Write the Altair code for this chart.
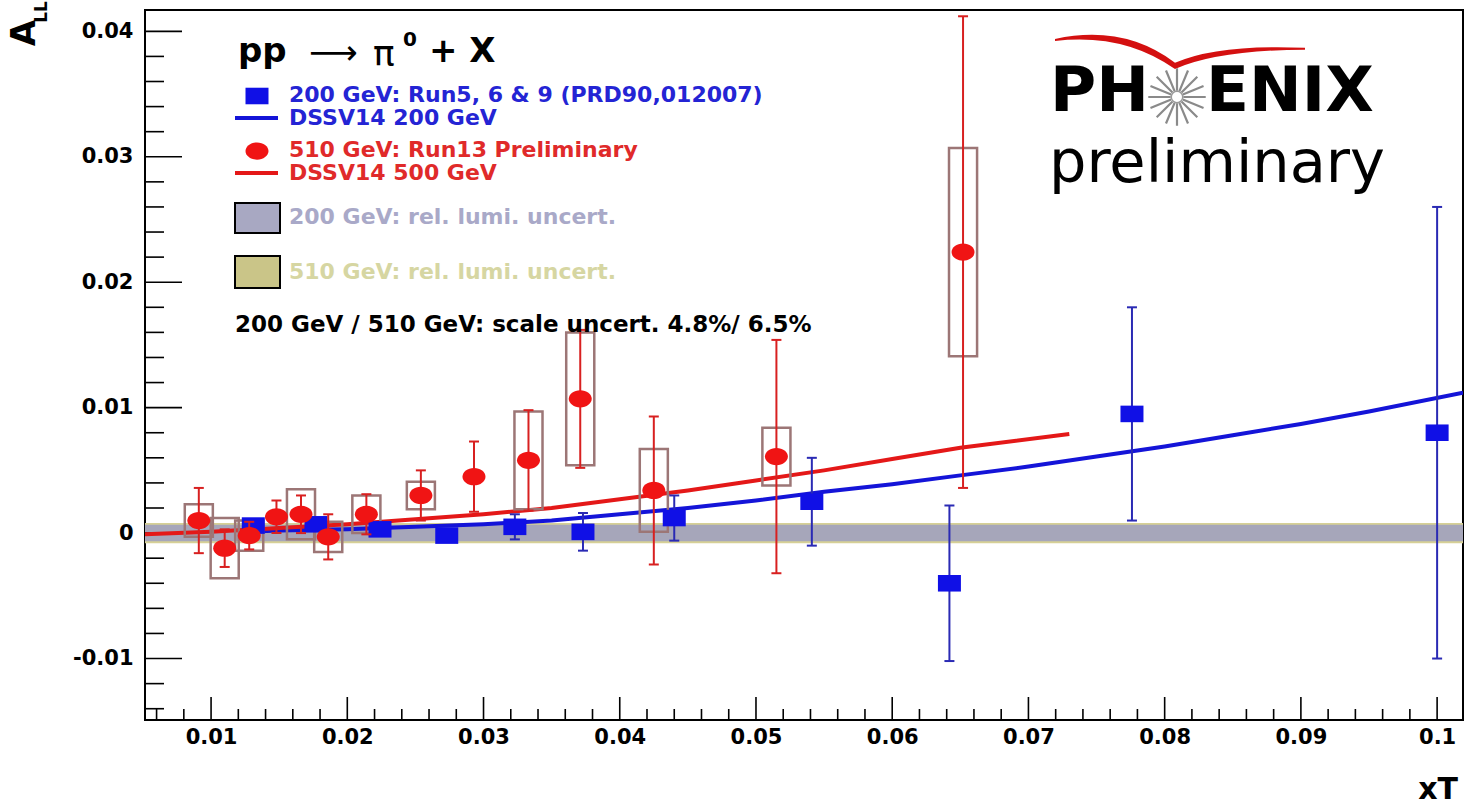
import math
import altair as alt
import pandas as pd

FONT = "DejaVu Sans"

# ---------------- data ----------------
# 510 GeV: Run13 preliminary (red)
red_x = [0.0091, 0.0110, 0.0128, 0.0148, 0.0166, 0.0186, 0.0214, 0.0254, 0.0293, 0.0333, 0.0371, 0.0425, 0.0515, 0.0652]
red_y = [0.0010, -0.0012, -0.0002, 0.0013, 0.0015, -0.0003, 0.0015, 0.0030, 0.0045, 0.0058, 0.0107, 0.0034, 0.0061, 0.0224]
red_stat = [0.0026, 0.0015, 0.0011, 0.0013, 0.0015, 0.0018, 0.0016, 0.0020, 0.0028, 0.0040, 0.0055, 0.0059, 0.0093, 0.0188]
red_sys = [0.0013, 0.0024, 0.0012, 0.0, 0.0020, 0.0012, 0.0015, 0.0011, 0.0, 0.0039, 0.0053, 0.0033, 0.0023, 0.0083]

# 200 GeV: Run5, 6 & 9 (blue)
blue_x = [0.0131, 0.0177, 0.0224, 0.0273, 0.0323, 0.0373, 0.0440, 0.0541, 0.0642, 0.0776, 0.1000]
blue_y = [0.0006, 0.0007, 0.0003, -0.0002, 0.0005, 0.0001, 0.0012, 0.0025, -0.0040, 0.0095, 0.0080]
blue_stat = [0.0005, 0.0005, 0.0004, 0.0005, 0.0010, 0.0015, 0.0018, 0.0035, 0.0062, 0.0085, 0.0180]

# DSSV14 curves
dssv500_x = [0.005, 0.010, 0.015, 0.020, 0.025, 0.030, 0.035, 0.040, 0.045, 0.050, 0.055, 0.060, 0.065, 0.073]
dssv500_y = [-0.0001, 0.0001, 0.0004, 0.0007, 0.0011, 0.0015, 0.0020, 0.0027, 0.0034, 0.0042, 0.0050, 0.0059, 0.0068, 0.0079]
dssv200_x = [0.0125, 0.015, 0.020, 0.025, 0.030, 0.035, 0.040, 0.045, 0.050, 0.055, 0.060,
             0.065, 0.070, 0.075, 0.080, 0.085, 0.090, 0.095, 0.1019]
dssv200_y = [0.0001, 0.0002, 0.0003, 0.0005, 0.0007, 0.0010, 0.0015, 0.0020, 0.0026, 0.0033, 0.0039,
             0.0046, 0.0053, 0.0061, 0.0069, 0.0078, 0.0087, 0.0097, 0.0112]

# relative luminosity uncertainty bands (half widths)
lumi_names = ["510 GeV", "200 GeV"]
lumi_half = [0.0008, 0.00066]
lumi_colors = ["#d6d096", "#a6a6ba"]

# axes
x_domain = [0.00515, 0.1019]
y_domain = [-0.0149, 0.0417]
x_major = [0.01, 0.02, 0.03, 0.04, 0.05, 0.06, 0.07, 0.08, 0.09, 0.1]
y_major = [-0.01, 0.0, 0.01, 0.02, 0.03, 0.04]
x_minor = [round(0.006 + 0.002 * i, 3) for i in range(48) if round((0.006 + 0.002 * i) * 1000) % 10 != 0]
y_minor = [round(-0.014 + 0.002 * i, 3) for i in range(28) if round(abs(-0.014 + 0.002 * i) * 1000) % 10 != 0]

# ---------------- styling ----------------
W, H = 1318, 710
BOX_HALF = 0.00103
RED = "#f01414"
RED_ERR = "#d82020"
BLUE = "#1010e6"
BLUE_ERR = "#2a2ab4"
BOX_COL = "#9c7676"
ELLIPSE = ("M -1 0 C -1 -0.414 -0.552 -0.75 0 -0.75 C 0.552 -0.75 1 -0.414 1 0 "
           "C 1 0.414 0.552 0.75 0 0.75 C -0.552 0.75 -1 0.414 -1 0 Z")
RECT = "M -1 -0.72 L 1 -0.72 L 1 0.72 L -1 0.72 Z"
SWOOSH = ("M -1 -0.12 Q -0.45 -0.24 -0.04 0.07 Q 0.3 -0.08 1 -0.05 L 1 -0.035 "
          "Q 0.3 -0.03 -0.04 0.12 Q -0.45 -0.17 -1 -0.105 Z")
# starburst of the logo: 16 spokes around a small open circle
_sp = []
for k in range(16):
    a = k * math.pi / 8
    _sp.append("M %.3f %.3f L %.3f %.3f" % (0.22 * math.cos(a), 0.22 * math.sin(a), math.cos(a), math.sin(a)))
STAR = " ".join(_sp)
HUB = ("M -0.2 0 C -0.2 -0.11 -0.11 -0.2 0 -0.2 C 0.11 -0.2 0.2 -0.11 0.2 0 "
       "C 0.2 0.11 0.11 0.2 0 0.2 C -0.11 0.2 -0.2 0.11 -0.2 0 Z")

xs = alt.Scale(domain=x_domain, nice=False, zero=False)
ys = alt.Scale(domain=y_domain, nice=False, zero=False)

xaxis = alt.Axis(values=x_major, labelExpr="format(datum.value, '~g')", ticks=False, domain=False,
                 grid=False, labelFont=FONT, labelFontSize=21, labelFontWeight="bold",
                 labelColor="black", labelPadding=6, labelFlush=False, labelOverlap=False, title=None)
yaxis = alt.Axis(values=y_major,
                 labelExpr="datum.value < 0 ? '-' + format(-datum.value, '~g') : format(datum.value, '~g')",
                 ticks=False, domain=False, grid=False, labelFont=FONT, labelFontSize=21,
                 labelFontWeight="bold", labelColor="black", labelPadding=12, labelFlush=False,
                 labelOverlap=False, title=None)


def X(f):
    return alt.X(f, type="quantitative", scale=xs, axis=xaxis)


def Y(f):
    return alt.Y(f, type="quantitative", scale=ys, axis=yaxis)


red = pd.DataFrame({"x": red_x, "y": red_y, "stat": red_stat, "sys": red_sys})
blue = pd.DataFrame({"x": blue_x, "y": blue_y, "stat": blue_stat})
lumi = pd.DataFrame({"name": lumi_names, "half": lumi_half, "col": lumi_colors})
c500 = pd.DataFrame({"x": dssv500_x, "y": dssv500_y})
c200 = pd.DataFrame({"x": dssv200_x, "y": dssv200_y})
one = pd.DataFrame({"a": [0]})

layers = []

# bands
layers.append(
    alt.Chart(lumi).transform_calculate(lo="-datum.half", hi="datum.half")
    .mark_rect().encode(x=alt.value(0), x2=alt.value(W), y=Y("lo"), y2=alt.Y2("hi"),
                        color=alt.Color("col:N", scale=None))
)

# inside ticks
layers.append(alt.Chart(pd.DataFrame({"v": x_major})).mark_rule(color="black", strokeWidth=1.6)
              .encode(x=X("v"), y=alt.value(H), y2=alt.value(H - 23)))
layers.append(alt.Chart(pd.DataFrame({"v": x_minor})).mark_rule(color="black", strokeWidth=1.6)
              .encode(x=X("v"), y=alt.value(H), y2=alt.value(H - 11)))
layers.append(alt.Chart(pd.DataFrame({"v": y_major})).mark_rule(color="black", strokeWidth=1.6)
              .encode(y=Y("v"), x=alt.value(0), x2=alt.value(37)))
layers.append(alt.Chart(pd.DataFrame({"v": y_minor})).mark_rule(color="black", strokeWidth=1.6)
              .encode(y=Y("v"), x=alt.value(0), x2=alt.value(19)))

# curves
layers.append(alt.Chart(c200).mark_line(color="#1414d8", strokeWidth=4, clip=True)
              .encode(x=X("x"), y=Y("y"), order="x:Q"))
layers.append(alt.Chart(c500).mark_line(color="#e41818", strokeWidth=4, clip=True)
              .encode(x=X("x"), y=Y("y"), order="x:Q"))

# systematic boxes (510 GeV)
layers.append(
    alt.Chart(red).transform_filter("datum.sys > 0")
    .transform_calculate(lo="datum.y - datum.sys", hi="datum.y + datum.sys",
                         xl=f"datum.x - {BOX_HALF}", xr=f"datum.x + {BOX_HALF}")
    .mark_rect(fillOpacity=0, stroke=BOX_COL, strokeWidth=2.5)
    .encode(x=X("xl"), x2=alt.X2("xr"), y=Y("lo"), y2=alt.Y2("hi"))
)


def errbars(df, col):
    base = alt.Chart(df).transform_calculate(lo="datum.y - datum.stat", hi="datum.y + datum.stat")
    rule = base.mark_rule(color=col, strokeWidth=2).encode(x=X("x"), y=Y("lo"), y2=alt.Y2("hi"))
    caps = base.transform_fold(["lo", "hi"], as_=["k", "v"]).mark_tick(
        color=col, orient="horizontal", size=10, thickness=2, opacity=1).encode(x=X("x"), y=Y("v:Q"))
    return [rule, caps]


layers += errbars(blue, BLUE_ERR)
layers.append(alt.Chart(blue).mark_point(shape=RECT, size=529, filled=True, color=BLUE, opacity=1,
                                         strokeWidth=0).encode(x=X("x"), y=Y("y")))
layers += errbars(red, RED_ERR)
layers.append(alt.Chart(red).mark_point(shape=ELLIPSE, size=529, filled=True, color=RED, opacity=1,
                                        strokeWidth=0).encode(x=X("x"), y=Y("y")))


# ---------------- texts, legend, logo ----------------
def txt(s, x, y, size, color="black", weight="bold", align="left", baseline="middle", angle=0, font=FONT):
    kw = dict(text=s, fontSize=size, color=color, fontWeight=weight, align=align,
              baseline=baseline, font=font)
    if angle:
        kw["angle"] = angle
    return alt.Chart(one).mark_text(**kw).encode(x=alt.value(x), y=alt.value(y))


# legend title  pp -> pi0 + X
layers.append(txt("pp", 93, 42, 34))
layers.append(txt("⟶", 164, 44, 34, weight="normal"))
layers.append(txt("π", 228, 45, 36, weight="normal"))
layers.append(txt("0", 258, 30, 20))
layers.append(txt("+ X", 284, 42, 34))

# legend entries
layers.append(alt.Chart(one).mark_point(shape=RECT, size=529, filled=True, color=BLUE, opacity=1,
                                        strokeWidth=0).encode(x=alt.value(112), y=alt.value(86)))
layers.append(txt("200 GeV: Run5, 6 & 9 (PRD90,012007)", 144, 85, 22, color="#2424d4"))
layers.append(alt.Chart(one).mark_rule(color="#1414d8", strokeWidth=4)
              .encode(x=alt.value(90), x2=alt.value(133), y=alt.value(108)))
layers.append(txt("DSSV14 200 GeV", 144, 108, 22, color="#2424d4"))
layers.append(alt.Chart(one).mark_point(shape=ELLIPSE, size=529, filled=True, color=RED, opacity=1,
                                        strokeWidth=0).encode(x=alt.value(112), y=alt.value(141)))
layers.append(txt("510 GeV: Run13 Preliminary", 144, 140, 22, color="#e02a2a"))
layers.append(alt.Chart(one).mark_rule(color="#e41818", strokeWidth=4)
              .encode(x=alt.value(90), x2=alt.value(133), y=alt.value(163)))
layers.append(txt("DSSV14 500 GeV", 144, 163, 22, color="#e02a2a"))
layers.append(alt.Chart(one).mark_rect(fill="#a8a8c2", stroke="black", strokeWidth=2)
              .encode(x=alt.value(90), x2=alt.value(135), y=alt.value(193), y2=alt.value(223)))
layers.append(txt("200 GeV: rel. lumi. uncert.", 144, 207, 22, color="#a9a9c8"))
layers.append(alt.Chart(one).mark_rect(fill="#cac588", stroke="black", strokeWidth=2)
              .encode(x=alt.value(90), x2=alt.value(135), y=alt.value(246), y2=alt.value(278)))
layers.append(txt("510 GeV: rel. lumi. uncert.", 144, 262, 22, color="#d6d6a2"))
layers.append(txt("200 GeV / 510 GeV: scale uncert. 4.8%/ 6.5%", 90, 315, 23))

# axis titles
layers.append(txt("A", -120, 23, 34, angle=270, align="center"))
layers.append(txt("LL", -103, 2, 17, angle=270, align="center"))
layers.append(txt("xT", 1313, 780, 30, align="right"))

# PHENIX logo
layers.append(alt.Chart(one).mark_point(shape=SWOOSH, size=62500, filled=True, color="#d41010",
                                        opacity=1, strokeWidth=0)
              .encode(x=alt.value(1035), y=alt.value(44)))
layers.append(txt("PH", 1004, 101, 63, align="right", baseline="alphabetic"))
layers.append(alt.Chart(one).mark_point(shape=STAR, size=3300, filled=False, color="#8a8a8a",
                                        opacity=1, strokeWidth=2.2)
              .encode(x=alt.value(1032), y=alt.value(87)))
layers.append(alt.Chart(one).mark_point(shape=HUB, size=3300, filled=False, color="#9a9a9a",
                                        opacity=1, strokeWidth=1.5)
              .encode(x=alt.value(1032), y=alt.value(87)))
layers.append(txt("ENIX", 1061, 101, 63, align="left", baseline="alphabetic"))
layers.append(txt("preliminary", 1072, 172, 59, weight="normal", align="center", baseline="alphabetic"))

chart = alt.layer(*layers).properties(
    width=W, height=H,
    autosize=alt.AutoSizeParams(type="none"),
    padding={"left": 145, "top": 10, "right": 3, "bottom": 89},
    background="white",
).configure_view(stroke="black", strokeWidth=2)

chart.save("out.html", embed_options={"renderer": "svg", "actions": False})
